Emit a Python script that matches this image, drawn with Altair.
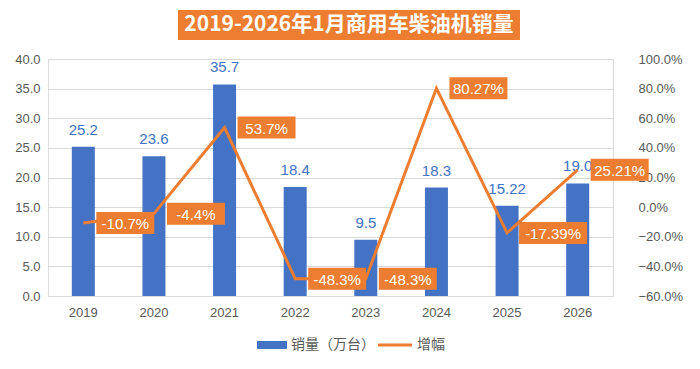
import altair as alt
import pandas as pd

years = ["2019", "2020", "2021", "2022", "2023", "2024", "2025", "2026"]
sales = [25.2, 23.6, 35.7, 18.4, 9.5, 18.3, 15.22, 19.0]
sales_labels = ["25.2", "23.6", "35.7", "18.4", "9.5", "18.3", "15.22", "19.0"]
growth = [-10.7, -4.4, 53.7, -48.3, -48.3, 80.27, -17.39, 25.21]
growth_labels = ["-10.7%", "-4.4%", "53.7%", "-48.3%", "-48.3%", "80.27%", "-17.39%", "25.21%"]

title_text = "2019-2026年1月商用车柴油机销量"
legend_bar = "销量（万台）"
legend_line = "增幅"

BLUE = "#4472C4"
ORANGE = "#ED7D31"
GRAY = "#595959"
FONT = "Liberation Sans"
CJK = "Noto Sans CJK SC"

df = pd.DataFrame({"year": years, "sales": sales, "slab": sales_labels,
                   "growth": growth, "glab": growth_labels})
base = alt.Chart(df)

x = alt.X("year:N", title=None, sort=years,
          scale=alt.Scale(paddingInner=0, paddingOuter=0),
          axis=alt.Axis(labelAngle=0, labelFont=FONT, labelFontSize=13, labelColor=GRAY,
                        domain=False, ticks=False, labelPadding=10))

ys = alt.Scale(domain=[0, 40])
yg = alt.Scale(domain=[-60, 100])

bars = base.mark_bar(color=BLUE, width=23).encode(
    x=x,
    y=alt.Y("sales:Q", scale=ys, title=None,
            axis=alt.Axis(values=[0, 5, 10, 15, 20, 25, 30, 35, 40], format=".1f",
                          labelFont=FONT, labelFontSize=13, labelColor=GRAY,
                          domain=False, ticks=False, labelPadding=8,
                          gridColor="#D9D9D9", gridWidth=1)),
)
bar_text = base.mark_text(color=BLUE, font=FONT, fontSize=15, baseline="bottom", dy=-9).encode(
    x=alt.X("year:N", sort=years),
    y=alt.Y("sales:Q", scale=ys, axis=None),
    text="slab:N",
)

line = base.mark_line(color=ORANGE, strokeWidth=3).encode(
    x=alt.X("year:N", sort=years),
    y=alt.Y("growth:Q", scale=yg, title=None,
            axis=alt.Axis(orient="right", values=[-60, -40, -20, 0, 20, 40, 60, 80, 100],
                          labelExpr="format(datum.value, '.1f') + '%'",
                          labelFont=FONT, labelFontSize=13, labelColor=GRAY,
                          domain=False, ticks=False, grid=False, labelPadding=25)),
)

short_shape = "M-1,-0.3793L1,-0.3793L1,0.3793L-1,0.3793Z"
long_shape = "M-1,-0.3235L1,-0.3235L1,0.3235L-1,0.3235Z"

box_short = base.transform_filter("length(datum.glab) <= 6").mark_point(
    shape=short_shape, size=58 * 58, filled=True, fill=ORANGE, opacity=1, strokeWidth=0, xOffset=42
).encode(x=alt.X("year:N", sort=years), y=alt.Y("growth:Q", scale=yg, axis=None))
box_long = base.transform_filter("length(datum.glab) > 6").mark_point(
    shape=long_shape, size=68 * 68, filled=True, fill=ORANGE, opacity=1, strokeWidth=0, xOffset=46
).encode(x=alt.X("year:N", sort=years), y=alt.Y("growth:Q", scale=yg, axis=None))

gtext_short = base.transform_filter("length(datum.glab) <= 6").mark_text(
    color="white", font=FONT, fontSize=15, dx=42, baseline="middle", dy=1
).encode(x=alt.X("year:N", sort=years), y=alt.Y("growth:Q", scale=yg, axis=None), text="glab:N")
gtext_long = base.transform_filter("length(datum.glab) > 6").mark_text(
    color="white", font=FONT, fontSize=15, dx=46, baseline="middle", dy=1
).encode(x=alt.X("year:N", sort=years), y=alt.Y("growth:Q", scale=yg, axis=None), text="glab:N")

deco = alt.Chart(pd.DataFrame({"t": [title_text]}))
title_box = deco.mark_rect(color=ORANGE).encode(
    x=alt.value(130), x2=alt.value(472), y=alt.value(-49), y2=alt.value(-19))
title_lbl = deco.mark_text(color="white", font=CJK, fontSize=21, fontWeight="bold",
                           baseline="middle").encode(
    x=alt.value(301), y=alt.value(-34), text="t:N")

leg = alt.Chart(pd.DataFrame({"a": [legend_bar], "b": [legend_line]}))
leg_rect = leg.mark_rect(color=BLUE).encode(
    x=alt.value(209), x2=alt.value(239), y=alt.value(282), y2=alt.value(290))
leg_t1 = leg.mark_text(color=GRAY, font=CJK, fontSize=14, align="left", baseline="middle").encode(
    x=alt.value(243), y=alt.value(286), text="a:N")
leg_line = leg.mark_rule(color=ORANGE, strokeWidth=3).encode(
    x=alt.value(330), x2=alt.value(364), y=alt.value(286))
leg_t2 = leg.mark_text(color=GRAY, font=CJK, fontSize=14, align="left", baseline="middle").encode(
    x=alt.value(369), y=alt.value(286), text="b:N")

chart = alt.layer(
    bars, bar_text, line, box_short, box_long, gtext_short, gtext_long,
    title_box, title_lbl, leg_rect, leg_t1, leg_line, leg_t2
).resolve_scale(y="independent").properties(
    width=565, height=237,
    autosize=alt.AutoSizeParams(type="none"),
    padding={"left": 40, "top": 51, "right": 79, "bottom": 65},
).configure_view(stroke=None).configure(background="white")

chart.save("out.html", embed_options={"renderer": "svg", "actions": False})
